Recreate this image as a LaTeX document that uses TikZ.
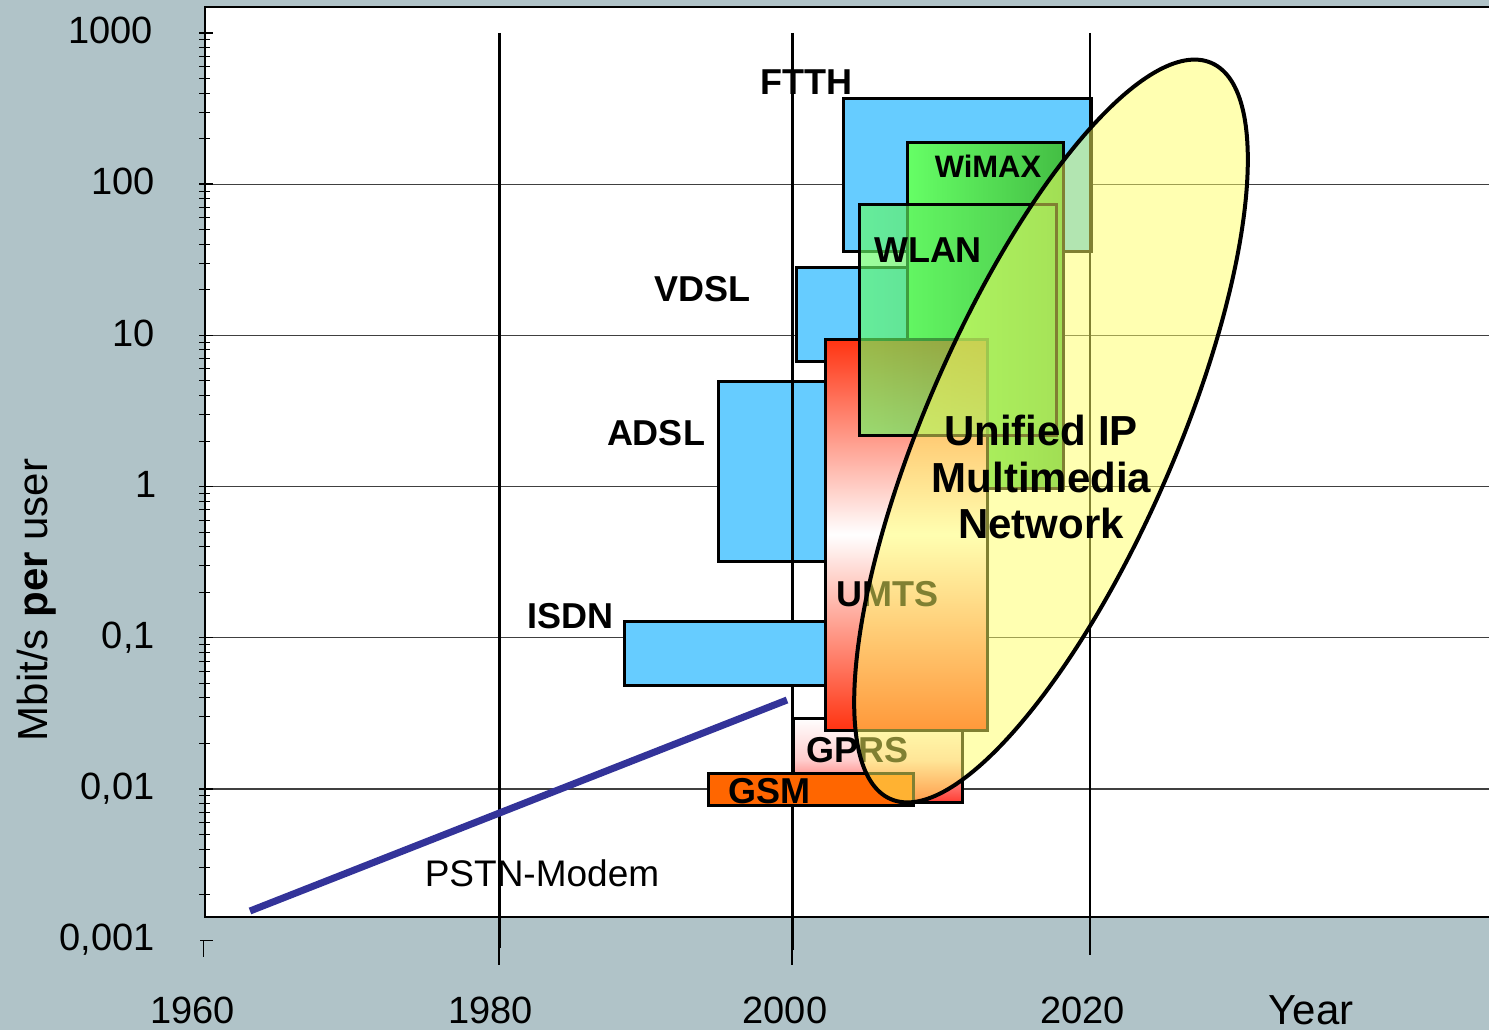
\documentclass[tikz,border=0pt]{standalone}
\usepackage{fontspec}
\setmainfont{Liberation Sans}
\begin{document}
\definecolor{panel}{RGB}{176,195,200}
\definecolor{dslblue}{RGB}{102,204,255}
\definecolor{gsmorange}{RGB}{255,102,0}
\definecolor{umtsred}{RGB}{255,51,17}
\definecolor{gprsred}{RGB}{255,60,50}
\definecolor{wlight}{RGB}{102,255,102}
\definecolor{wdark}{RGB}{68,190,68}
\definecolor{ipyellow}{RGB}{255,255,100}
\definecolor{modem}{RGB}{51,51,153}
\begin{tikzpicture}[x=1pt,y=-1pt,
  box/.style={draw=black,line width=3pt},
  dsl/.style={box,fill=dslblue},
  gridln/.style={draw=black!75,line width=1.3pt},
  yearln/.style={draw=black,line width=3pt},
  thinln/.style={draw=black,line width=1.2pt},
  tickln/.style={draw=black,line width=1pt},
  lbl/.style={font=\fontsize{36}{40}\selectfont\bfseries,anchor=base,inner sep=0pt},
  smalllbl/.style={font=\fontsize{31}{35}\selectfont\bfseries,anchor=base,inner sep=0pt},
  biglbl/.style={font=\fontsize{42}{46}\selectfont\bfseries,anchor=base,inner sep=0pt},
  axlbl/.style={font=\fontsize{38}{42}\selectfont,anchor=base,inner sep=0pt},
  ticklbl/.style={axlbl,anchor=base east}]
\useasboundingbox (0,0) rectangle (1489,1030);
\clip (0,0) rectangle (1489,1030);
\fill[panel] (0,0) rectangle (1489,1030);

% plot area
\fill[white] (205,7) rectangle (1500,917);

% horizontal grid (decades 0,01 ... 100)
\foreach \e in {-2,...,2}{
  \pgfmathsetmacro{\yy}{33+151.17*(3-\e)}
  \draw[gridln] (199,\yy) -- (1500,\yy);
}
\draw[black,line width=2pt] (1500,7) -- (205,7) -- (205,917) -- (1500,917);

% logarithmic ticks
\foreach \e in {-3,...,2}{
  \foreach \k in {2,...,9}{
    \pgfmathsetmacro{\yy}{33+151.17*(3-\e-log10(\k))}
    \draw[tickln] (199,\yy) -- (210,\yy);
  }
}
\foreach \e in {-2,...,3}{
  \pgfmathsetmacro{\yy}{33+151.17*(3-\e)}
  \draw[black,line width=1.6pt] (199,\yy) -- (213,\yy);
}
\draw[tickln] (200,940) -- (213,940);
\draw[tickln] (203,940) -- (203,957);

% tick labels
\node[ticklbl] (t1000) at (153,44) {1000};
\node[ticklbl] (t100) at (155,194.5) {100};
\node[ticklbl] (t10) at (155,346) {10};
\node[ticklbl] (t1) at (157,497) {1};
\node[ticklbl] (t01) at (155,648) {0,1};
\node[ticklbl] (t001) at (155,799.5) {0,01};
\node[ticklbl] (t0001) at (155,950) {0,001};

\node[axlbl] (y1960) at (192.5,1023) {1960};
\node[axlbl] (y1980) at (490.5,1023) {1980};
\node[axlbl] (y2000) at (785,1023) {2000};
\node[axlbl] (y2020) at (1082.5,1023) {2020};
\node[axlbl,font=\fontsize{42}{46}\selectfont] (yyear) at (1311,1024) {Year};

\node[font=\fontsize{42}{46}\selectfont,rotate=90,anchor=base,inner sep=0pt] (ylab) at (47,600)
  {Mbit/s {\bfseries per} user};

% wireline access
\draw[dsl] (843,99) rectangle (1091,251);
\draw[dsl] (796,267) rectangle (907,361);
\draw[dsl] (718,381) rectangle (825,561);

% year lines
\draw[yearln] (499,33) -- (499,948);
\draw[thinln] (499,948) -- (499,965);
\draw[yearln] (792,33) -- (792,950);
\draw[thinln] (792,950) -- (792,965);
\draw[thinln] (1090,33) -- (1090,955);

\draw[dsl] (624,621) rectangle (825,685);

% PSTN modem trend
\coordinate (pstnA) at (250,911);
\coordinate (pstnB) at (787,700);
\draw[modem,line width=7pt] (pstnA) -- (pstnB);
\node[font=\fontsize{37}{41}\selectfont,anchor=base,inner sep=0pt] (pstn) at (542,886) {PSTN-Modem};

% mobile access
\shade[top color=white,bottom color=gprsred,middle color=red!20] (793,718) rectangle (962,802);
\draw[box] (793,718) rectangle (962,802);
\draw[box,fill=gsmorange] (708,773) rectangle (913,805);
\shade[left color=wlight,right color=wdark] (907,143) rectangle (1063,488);
\draw[box] (907,143) rectangle (1063,488);
\shade[top color=umtsred,bottom color=umtsred,middle color=white] (825,339) rectangle (987,730);
\draw[box] (825,339) rectangle (987,730);
\shade[left color=wlight,right color=wlight!80!black,fill opacity=0.65] (859,204) rectangle (1056,435);
\draw[box] (859,204) rectangle (1056,435);

% technology labels
\node[lbl] (ftth) at (806.5,95) {FTTH};
\node[smalllbl] (wimax) at (988,178) {WiMAX};
\node[lbl] (wlan) at (928,262) {WLAN};
\node[lbl] (vdsl) at (702.5,301) {VDSL};
\node[lbl] (adsl) at (656,445) {ADSL};
\node[lbl] (isdn) at (570.5,628) {ISDN};
\node[lbl] (umts) at (887.5,606) {UMTS};
\node[lbl] (gprs) at (857.5,762) {GPRS};
\node[lbl] (gsm) at (769.5,803) {GSM};

% unified network
\fill[ipyellow,fill opacity=0.5,rotate around={66.45:(1051,431)}] (1051,431) ellipse [x radius=401.5,y radius=124.4];
\draw[black,line width=4pt,rotate around={66.45:(1051,431)}] (1051,431) ellipse [x radius=401.5,y radius=124.4];
\node[biglbl] (ip1) at (1041,445) {Unified IP};
\node[biglbl] (ip2) at (1041.5,492) {Multimedia};
\node[biglbl] (ip3) at (1041,538) {Network};
\end{tikzpicture}
\end{document}
